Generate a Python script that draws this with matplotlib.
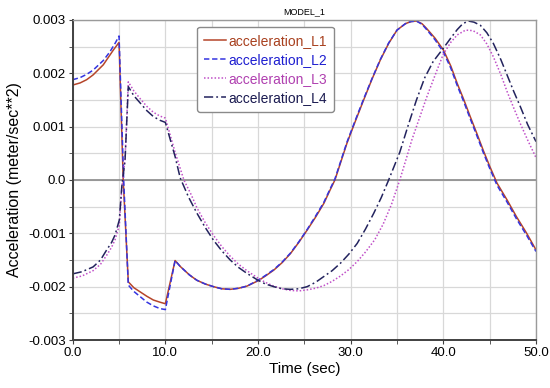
import matplotlib.pyplot as plt
from matplotlib.ticker import MultipleLocator

plt.rcParams['font.family'] = ['Liberation Sans', 'DejaVu Sans']

# 数据
t1 = [0.0, 0.8, 1.5, 2.2, 3.3, 4.4, 5.0, 5.45, 6.0, 6.6, 7.3, 8.0, 8.7, 9.4, 10.0,
      11.05, 11.6, 12.6, 13.4, 14.3, 15.2, 16.1, 17.0, 17.9, 18.8, 20.0, 20.8, 21.7,
      22.6, 23.5, 24.4, 25.3, 26.2, 27.1, 27.8, 28.3, 29.6, 30.5, 31.4, 32.3, 33.2,
      34.1, 35.0, 35.9, 36.5, 37.1, 37.7, 38.2, 39.1, 40.0, 40.8, 41.5, 42.2, 42.9,
      43.6, 44.3, 45.0, 45.8, 46.9, 47.9, 49.0, 50.0]
acc_L1 = [0.00178, 0.00182, 0.00188, 0.00197, 0.00216, 0.00244, 0.00258, 0.0, -0.00191,
          -0.00202, -0.00210, -0.00218, -0.00225, -0.00229, -0.00232,
          -0.00151, -0.00162, -0.00178, -0.00188, -0.00195, -0.00200, -0.00204, -0.00205,
          -0.00203, -0.00199, -0.00189, -0.00180, -0.00169, -0.00155, -0.00138, -0.00117,
          -0.00094, -0.00070, -0.00044, -0.00018, 0.0, 0.00069, 0.00110, 0.00150, 0.00189,
          0.00225, 0.00256, 0.00281, 0.00293, 0.00297, 0.00298, 0.00293, 0.00284, 0.00266,
          0.00244, 0.00214, 0.00181, 0.00151, 0.00119, 0.00088, 0.00056, 0.00026, -0.00006,
          -0.00038, -0.00069, -0.00100, -0.00131]

t2 = [0.0, 0.8, 1.5, 2.2, 3.3, 4.0, 4.6, 5.0, 5.5, 6.0, 6.6, 7.3, 8.0, 8.7, 9.4, 10.0,
      11.05, 11.6, 12.6, 13.4, 14.3, 15.2, 16.1, 17.0, 17.9, 18.8, 20.0, 20.8, 21.7,
      22.6, 23.5, 24.4, 25.3, 26.2, 27.1, 27.8, 28.3, 29.6, 30.5, 31.4, 32.3, 33.2,
      34.1, 35.0, 35.9, 36.5, 37.1, 37.7, 38.2, 39.1, 40.0, 40.8, 41.5, 42.2, 42.9,
      43.6, 44.3, 45.0, 45.8, 46.9, 47.9, 49.0, 50.0]
acc_L2 = [0.00188, 0.00192, 0.00198, 0.00206, 0.00224, 0.00240, 0.00257, 0.00270, 0.0,
          -0.00197, -0.00209, -0.00219, -0.00229, -0.00236, -0.00241, -0.00243,
          -0.00151, -0.00162, -0.00178, -0.00188, -0.00195, -0.00200, -0.00204, -0.00205,
          -0.00203, -0.00199, -0.00188, -0.00179, -0.00168, -0.00154, -0.00137, -0.00116,
          -0.00093, -0.00068, -0.00042, -0.00016, 0.00002, 0.00071, 0.00112, 0.00152, 0.00190,
          0.00226, 0.00257, 0.00281, 0.00293, 0.00297, 0.00298, 0.00292, 0.00282, 0.00263,
          0.00240, 0.00210, 0.00177, 0.00147, 0.00115, 0.00084, 0.00052, 0.00022, -0.00010,
          -0.00042, -0.00073, -0.00104, -0.00134]

t3 = [0.0, 1.0, 2.2, 3.0, 3.67, 4.2, 4.57, 5.03, 5.3, 5.65, 6.0, 6.6, 7.3, 8.0, 8.7,
      9.4, 10.0, 11.05, 12.0, 12.8, 13.4, 14.3, 15.2, 16.1, 17.0, 17.9, 18.8, 20.0,
      20.8, 21.7, 22.6, 23.5, 24.4, 25.3, 26.2, 27.1, 28.0, 28.9, 29.8, 30.7, 31.6,
      32.6, 33.5, 34.4, 35.3, 36.0, 36.6, 37.5, 38.2, 38.9, 39.5, 40.0, 40.8, 41.5,
      42.4, 43.2, 44.0, 44.7, 45.4, 46.2, 46.9, 47.6, 48.3, 49.1, 50.0]
acc_L3 = [-0.00184, -0.00180, -0.00170, -0.00158, -0.00141, -0.00126, -0.00112, -0.00085,
          -0.00015, 0.00040, 0.00184, 0.00167, 0.00152, 0.00138, 0.00127, 0.00120, 0.00116,
          0.00052, 0.0, -0.00028, -0.00052, -0.00080, -0.00104, -0.00125, -0.00143, -0.00158,
          -0.00170, -0.00184, -0.00192, -0.00199, -0.00204, -0.00207, -0.00208, -0.00206,
          -0.00203, -0.00198, -0.00190, -0.00180, -0.00168, -0.00153, -0.00135, -0.00112,
          -0.00083, -0.00046, 0.0, 0.00040, 0.00075, 0.00120, 0.00155, 0.00187, 0.00214,
          0.00236, 0.00258, 0.00272, 0.00281, 0.00280, 0.00272, 0.00255, 0.00231, 0.00198,
          0.00165, 0.00135, 0.00106, 0.00075, 0.00042]

t4 = [0.0, 1.0, 2.2, 3.0, 3.67, 4.2, 4.57, 5.03, 5.3, 5.65, 6.0, 6.6, 7.3, 8.0, 8.7,
      9.4, 10.0, 11.05, 11.6, 12.5, 13.4, 14.3, 15.2, 16.1, 17.0, 17.9, 18.8, 20.0,
      20.8, 21.7, 22.6, 23.5, 24.4, 25.3, 26.2, 27.1, 28.0, 28.9, 29.8, 30.7, 31.6,
      32.5, 33.3, 34.1, 35.3, 36.2, 37.1, 38.0, 38.9, 40.0, 40.8, 41.5, 42.1, 42.7,
      43.3, 44.0, 44.7, 45.4, 46.2, 46.9, 47.6, 48.3, 49.1, 50.0]
acc_L4 = [-0.00176, -0.00172, -0.00163, -0.00150, -0.00131, -0.00117, -0.00103, -0.00075,
          -0.00012, 0.00038, 0.00175, 0.00158, 0.00144, 0.00130, 0.00119, 0.00112, 0.00108,
          0.00044, 0.00004, -0.00032, -0.00062, -0.00089, -0.00113, -0.00133, -0.00150,
          -0.00164, -0.00175, -0.00188, -0.00195, -0.00200, -0.00204, -0.00205, -0.00204,
          -0.00200, -0.00192, -0.00181, -0.00170, -0.00156, -0.00139, -0.00119, -0.00092,
          -0.00062, -0.00033, 0.0, 0.00052, 0.00102, 0.00150, 0.00192, 0.00222, 0.00247,
          0.00266, 0.00282, 0.00293, 0.00298, 0.00296, 0.00290, 0.00276, 0.00256, 0.00226,
          0.00196, 0.00166, 0.00138, 0.00104, 0.00072]

series = [
    (t1, acc_L1, 'acceleration_L1', '#B5452A', '-', '#A8401E'),
    (t2, acc_L2, 'acceleration_L2', '#3434E0', (0, (3.5, 1.8)), '#1E1ED0'),
    (t3, acc_L3, 'acceleration_L3', '#C050C8', (0, (1, 1.3)), '#B040B0'),
    (t4, acc_L4, 'acceleration_L4', '#23235E', (0, (6, 2, 1.2, 2)), '#1A1A50'),
]

fig = plt.figure(figsize=(5.5, 3.88), dpi=100)
ax = fig.add_axes([0.1322, 0.1237, 0.8423, 0.8248])

for tt, vv, name, col, ls, _ in series:
    ax.plot(tt, vv, color=col, linestyle=ls, linewidth=1.1, label=name)

ax.set_xlim(0, 50)
ax.set_ylim(-0.003, 0.003)
ax.xaxis.set_minor_locator(MultipleLocator(5))
ax.yaxis.set_minor_locator(MultipleLocator(0.0005))
ax.set_xticks([0, 10, 20, 30, 40, 50])
ax.set_xticklabels(['0.0', '10.0', '20.0', '30.0', '40.0', '50.0'])
ax.set_yticks([-0.003, -0.002, -0.001, 0, 0.001, 0.002, 0.003])
ax.set_yticklabels(['-0.003', '-0.002', '-0.001', '0.0', '0.001', '0.002', '0.003'])
ax.tick_params(which='both', direction='out', length=3, color='#404040', labelsize=9.5, pad=2)

ax.grid(True, which='both', color='#D8D8D8', linewidth=0.9)
ax.set_axisbelow(True)
ax.axhline(0, color='#8A8A8A', linewidth=1.2, zorder=1)

for s in ['left', 'bottom']:
    ax.spines[s].set_color('#404040')
    ax.spines[s].set_linewidth(1.4)
for s in ['top', 'right']:
    ax.spines[s].set_color('#9A9A9A')
    ax.spines[s].set_linewidth(1.0)

ax.set_xlabel('Time (sec)', fontsize=11, labelpad=2)
ax.set_ylabel('Acceleration (meter/sec**2)', fontsize=11.5, labelpad=4)
ax.set_title('MODEL_1', fontsize=6.5, pad=4)

leg = ax.legend(loc='upper left', bbox_to_anchor=(0.268, 0.979), borderaxespad=0,
                fontsize=10, handlelength=1.6, handletextpad=0.15, labelspacing=0.36,
                borderpad=0.5, fancybox=True, framealpha=1, edgecolor='#8A8A8A')
leg.get_frame().set_linewidth(1.0)
for txt, s in zip(leg.get_texts(), series):
    txt.set_color(s[5])

fig.savefig('out.png', dpi=100)
